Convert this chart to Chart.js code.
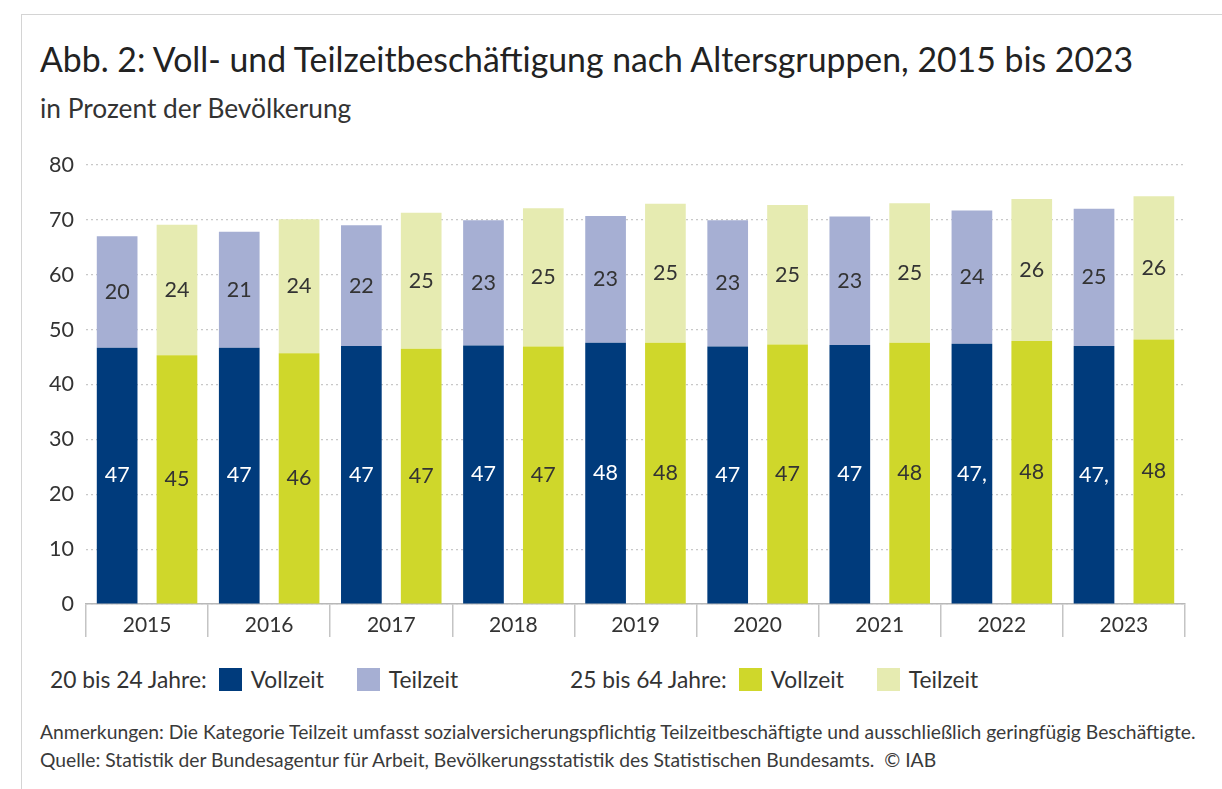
<!DOCTYPE html>
<html><head><meta charset="utf-8">
<script src="https://cdn.jsdelivr.net/npm/chart.js@4.4.1/dist/chart.umd.min.js"></script>
<style>
html,body{margin:0;padding:0;background:#fff;width:1222px;height:789px;overflow:hidden;font-family:Lato,sans-serif;color:#333}
#frame{position:absolute;left:21px;top:14px;width:1300px;height:900px;border-left:1.5px solid #d4d4d4;border-top:1.5px solid #d4d4d4}
#title{position:absolute;left:40px;top:38px;font-size:33.8px;line-height:42px;color:#222;white-space:nowrap}
#sub{position:absolute;left:40px;top:92px;font-size:26.3px;line-height:32px;color:#333;white-space:nowrap}
#wrap{position:absolute;left:0;top:140px;width:1222px;height:500px}
.lg{position:absolute;top:664px;height:30px;display:flex;align-items:center;font-size:22.8px;white-space:nowrap;color:#333}
.sw{display:inline-block;width:23px;height:23px;margin:0 9px 0 12px}
.sw.second{margin-left:33px}
.note{position:absolute;left:40px;font-size:19.3px;line-height:22px;white-space:nowrap;color:#3a3a3a}
</style></head>
<body>
<div id="frame"></div>
<div id="title">Abb. 2: Voll- und Teilzeitbeschäftigung nach Altersgruppen, 2015 bis 2023</div>
<div id="sub">in Prozent der Bevölkerung</div>
<div id="wrap"><canvas id="c"></canvas></div>
<div class="lg" id="lg1" style="left:50px"></div>
<div class="lg" id="lg2" style="left:570px"></div>
<div class="note" style="top:721px">Anmerkungen: Die Kategorie Teilzeit umfasst sozialversicherungspflichtig Teilzeitbeschäftigte und ausschließlich geringfügig Beschäftigte.</div>
<div class="note" style="top:749px">Quelle: Statistik der Bundesagentur für Arbeit, Bevölkerungsstatistik des Statistischen Bundesamts.&nbsp; © IAB</div>
<script>
const years = ['2015','2016','2017','2018','2019','2020','2021','2022','2023'];
const yTicks = [0,10,20,30,40,50,60,70,80];
const groupLabels = ['20 bis 24 Jahre:', '25 bis 64 Jahre:'];
const seriesNames = ['Vollzeit', 'Teilzeit'];

const vollzeit2024 = [46.7, 46.7, 47.0, 47.1, 47.6, 46.9, 47.2, 47.4, 47.0];
const teilzeit2024 = [20.3, 21.1, 22.0, 22.8, 23.1, 23.0, 23.4, 24.3, 25.0];
const vollzeit2564 = [45.3, 45.7, 46.5, 46.9, 47.6, 47.3, 47.6, 47.9, 48.2];
const teilzeit2564 = [23.8, 24.4, 24.8, 25.2, 25.3, 25.4, 25.4, 25.9, 26.1];

const labVollzeit2024 = ['47','47','47','47','48','47','47','47,','47,'];
const labTeilzeit2024 = ['20','21','22','23','23','23','23','24','25'];
const labVollzeit2564 = ['45','46','47','47','48','47','48','48','48'];
const labTeilzeit2564 = ['24','24','25','25','25','25','25','26','26'];

const C = {dark:'#003b7c', lav:'#a6afd3', lime:'#cfd72b', pale:'#e6ebb1'};
const FONT = 'Lato';

const datasets = [
  {label:seriesNames[0], group:0, data:vollzeit2024, valueLabels:labVollzeit2024, backgroundColor:C.dark, stack:'a', labelColor:'#ffffff'},
  {label:seriesNames[1], group:0, data:teilzeit2024, valueLabels:labTeilzeit2024, backgroundColor:C.lav, stack:'a', labelColor:'#333333'},
  {label:seriesNames[0], group:1, data:vollzeit2564, valueLabels:labVollzeit2564, backgroundColor:C.lime, stack:'b', labelColor:'#333333'},
  {label:seriesNames[1], group:1, data:teilzeit2564, valueLabels:labTeilzeit2564, backgroundColor:C.pale, stack:'b', labelColor:'#333333'}
];

const barLabels = {
  id:'barLabels',
  afterDatasetsDraw(chart){
    const ctx = chart.ctx;
    chart.data.datasets.forEach((ds,i)=>{
      const meta = chart.getDatasetMeta(i);
      meta.data.forEach((bar,j)=>{
        const p = bar.getProps(['x','y','base'], true);
        ctx.save();
        ctx.font = '21.5px ' + FONT;
        ctx.fillStyle = ds.labelColor;
        ctx.textAlign = 'center';
        ctx.textBaseline = 'middle';
        ctx.fillText(ds.valueLabels[j], p.x, (p.y + p.base)/2);
        ctx.restore();
      });
    });
  }
};

new Chart(document.getElementById('c'), {
  type:'bar',
  data:{labels:years, datasets:datasets.map(d=>({...d, borderWidth:0, categoryPercentage:0.98, barPercentage:0.68}))},
  options:{
    responsive:true, maintainAspectRatio:false, animation:false,
    layout:{padding:{left:0,right:37,top:5,bottom:0}},
    plugins:{legend:{display:false}, tooltip:{enabled:false}},
    scales:{
      x:{
        stacked:true,
        grid:{offset:true, drawOnChartArea:false, drawTicks:true, tickLength:33, color:'#c4c4c4', lineWidth:1.5},
        border:{display:true, color:'#b8b8b8', width:1.5},
        ticks:{font:{family:FONT,size:21}, color:'#333', padding:-24, maxRotation:0},
        afterFit(s){ s.height = 36; }
      },
      y:{
        stacked:true, min:0, max:80,
        afterBuildTicks(s){ s.ticks = yTicks.map(v=>({value:v})); },
        grid:{drawTicks:false, color:'#c8c8c8', lineWidth:1.2},
        border:{display:false, dash:[2,3]},
        ticks:{font:{family:FONT,size:21.5}, color:'#333', padding:12},
        afterFit(s){ s.width = 86; }
      }
    }
  },
  plugins:[barLabels]
});

function buildLegend(el, g){
  const t = document.createElement('span'); t.textContent = groupLabels[g]; el.appendChild(t);
  datasets.filter(d=>d.group===g).forEach((d,k)=>{
    const sw = document.createElement('span'); sw.className = 'sw' + (k? ' second':''); sw.style.background = d.backgroundColor; el.appendChild(sw);
    const l = document.createElement('span'); l.textContent = d.label; el.appendChild(l);
  });
}
buildLegend(document.getElementById('lg1'),0);
buildLegend(document.getElementById('lg2'),1);
</script>
</body></html>
